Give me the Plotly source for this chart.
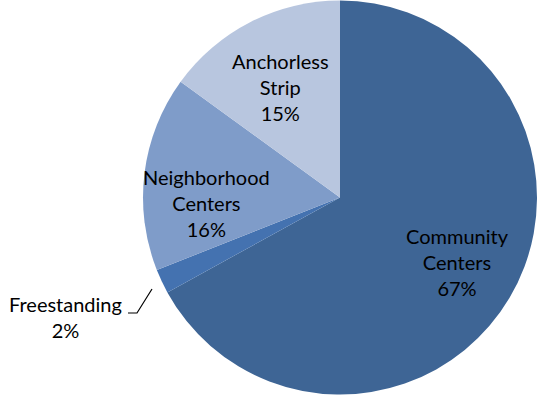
import plotly.graph_objects as go

categories = ["Community Centers", "Freestanding", "Neighborhood Centers", "Anchorless Strip"]
shares = [67, 2, 16, 15]
colors = ["#3E6595", "#4472B0", "#7F9CC9", "#B8C6DF"]

W, H = 551, 395
cx, cy, r = 340, 197.5, 197


def clamp(v):
    return min(1.0, max(0.0, v))


fig = go.Figure(go.Pie(
    labels=categories,
    values=shares,
    sort=False,
    direction="clockwise",
    rotation=0,
    marker=dict(colors=colors, line=dict(width=0)),
    textinfo="none",
    hoverinfo="none",
    showlegend=False,
    domain=dict(x=[clamp((cx - r) / W), clamp((cx + r) / W)],
                y=[clamp(1 - (cy + r) / H), clamp(1 - (cy - r) / H)]),
))

# label block centres (pixels)
label_pos = [(457, 262), (65, 317), (206, 203), (280, 87)]
annotations = []
for cat, val, (px, py) in zip(categories, shares, label_pos):
    txt = cat.replace(" ", "<br>") + f"<br>{val}%"
    annotations.append(dict(
        x=px / W, y=1 - py / H, xref="paper", yref="paper",
        text=txt, showarrow=False, xanchor="center", yanchor="middle",
        font=dict(family="Lato", size=20, color="#000000"), align="center",
    ))

# leader line for the small slice
pts = [(128, 313), (137, 313), (152, 289)]
path = "M " + " L ".join(f"{x/W} {1 - y/H}" for x, y in pts)
fig.add_shape(type="path", path=path, xref="paper", yref="paper",
              line=dict(color="#000000", width=1.2))

fig.update_layout(
    width=W, height=H,
    margin=dict(l=0, r=0, t=0, b=0),
    paper_bgcolor="white", plot_bgcolor="white",
    annotations=annotations,
)

fig.write_html("out.html")
